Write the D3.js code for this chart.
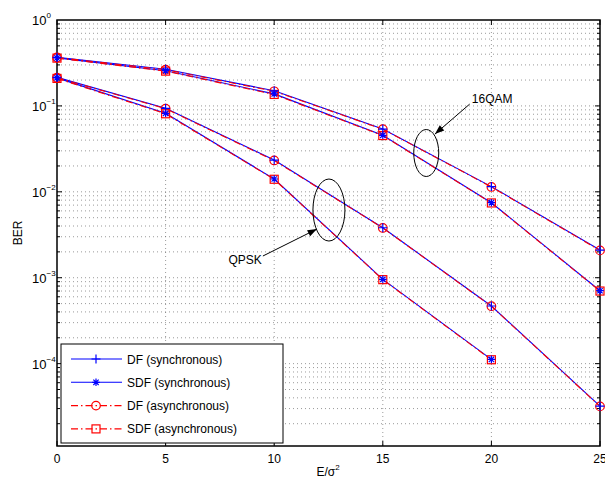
<!DOCTYPE html>
<html>
<head>
<meta charset="utf-8">
<script src="https://cdn.jsdelivr.net/npm/d3@7"></script>
<style>
  body { margin: 0; background: #fff; }
  svg { font-family: Helvetica, Arial, "Liberation Sans", sans-serif; }
</style>
</head>
<body>
<svg id="chart" width="605" height="483"></svg>
<script>
// E/sigma^2 points
var snr = [0, 5, 10, 15, 20, 25];

// 16QAM curves
var qamDfSync   = [0.368, 0.267, 0.150, 0.0538, 0.0115, 0.00210];
var qamSdfSync  = [0.362, 0.257, 0.138, 0.0455, 0.00747, 0.000706];
var qamDfAsync  = [0.366, 0.264, 0.148, 0.0536, 0.0114, 0.00208];
var qamSdfAsync = [0.360, 0.254, 0.136, 0.0452, 0.00742, 0.000700];

// QPSK curves
var qpskDfSync   = [0.215, 0.0938, 0.0234, 0.00382, 0.000469, 0.000032];
var qpskSdfSync  = [0.212, 0.0820, 0.0141, 0.000958, 0.000112];
var qpskDfAsync  = [0.213, 0.0930, 0.0232, 0.00380, 0.000466, 0.0000318];
var qpskSdfAsync = [0.209, 0.0810, 0.0140, 0.000950, 0.000111];

var xTicks = [0, 5, 10, 15, 20, 25];
var yTicks = [1, 1e-1, 1e-2, 1e-3, 1e-4];
var yExps  = [0, -1, -2, -3, -4];

var legendLabels = ["DF (synchronous)", "SDF (synchronous)", "DF (asynchronous)", "SDF (asynchronous)"];

var svg = d3.select("#chart");
var pLeft = 57, pRight = 600, pTop = 20, pBottom = 446;

var x = d3.scaleLinear().domain([0, 25]).range([pLeft, pRight]);
var y = d3.scaleLog().domain([1.1e-5, 1]).range([pBottom, pTop]);

// grid
var grid = svg.append("g").attr("stroke", "#555").attr("stroke-width", 0.6)
  .attr("stroke-dasharray", "1,3");
[5, 10, 15, 20].forEach(function(v) {
  grid.append("line").attr("x1", x(v)).attr("x2", x(v)).attr("y1", pTop).attr("y2", pBottom);
});
var minor = [];
for (var e = -5; e < 0; e++) {
  for (var m = 1; m <= 9; m++) {
    var v = m * Math.pow(10, e);
    if (v > 1.1e-5 && v < 1) minor.push({ v: v, major: m === 1 });
  }
}
minor.forEach(function(d) {
  grid.append("line").attr("x1", pLeft).attr("x2", pRight).attr("y1", y(d.v)).attr("y2", y(d.v));
});

// ticks (inside, both sides)
var ticks = svg.append("g").attr("stroke", "#000").attr("stroke-width", 1);
xTicks.forEach(function(v) {
  ticks.append("line").attr("x1", x(v)).attr("x2", x(v)).attr("y1", pBottom).attr("y2", pBottom - 5);
  ticks.append("line").attr("x1", x(v)).attr("x2", x(v)).attr("y1", pTop).attr("y2", pTop + 5);
});
minor.forEach(function(d) {
  var len = d.major ? 5 : 3;
  ticks.append("line").attr("x1", pLeft).attr("x2", pLeft + len).attr("y1", y(d.v)).attr("y2", y(d.v));
  ticks.append("line").attr("x1", pRight).attr("x2", pRight - len).attr("y1", y(d.v)).attr("y2", y(d.v));
});

// frame
svg.append("rect").attr("x", pLeft).attr("y", pTop).attr("width", pRight - pLeft).attr("height", pBottom - pTop)
  .attr("fill", "none").attr("stroke", "#000").attr("stroke-width", 1.5);

// tick labels
svg.append("g").selectAll("text").data(xTicks).enter().append("text")
  .attr("x", function(d) { return x(d); }).attr("y", pBottom + 17)
  .attr("text-anchor", "middle").attr("font-size", 12).text(function(d) { return d; });

var yl = svg.append("g").selectAll("text").data(yTicks).enter().append("text")
  .attr("x", pLeft - 25).attr("y", function(d) { return y(d) + 5; })
  .attr("font-size", 13);
yl.append("tspan").text("10");
yl.append("tspan").attr("dy", -7).attr("font-size", 8).text(function(d, i) { return yExps[i] === 0 ? "0" : "\u2212" + (-yExps[i]); });

// axis titles
var xt = svg.append("text").attr("x", x(12.5) - 12).attr("y", 476).attr("font-size", 12);
xt.append("tspan").text("E/\u03c3");
xt.append("tspan").attr("dy", -6).attr("font-size", 8).text("2");
svg.append("text").attr("transform", "translate(22," + ((pTop + pBottom) / 2) + ") rotate(-90)")
  .attr("text-anchor", "middle").attr("font-size", 12).text("BER");

// curves
var line = d3.line().x(function(d) { return x(d[0]); }).y(function(d) { return y(d[1]); });
function pairs(vals) { return vals.map(function(v, i) { return [snr[i], v]; }); }

var blue = "#0000ff", red = "#ff0000";
var dashDot = "7,3,1.5,3";

function plus(g, cx, cy, c) {
  g.append("path").attr("d", "M" + (cx - 4.5) + "," + cy + "H" + (cx + 4.5) + "M" + cx + "," + (cy - 4.5) + "V" + (cy + 4.5))
    .attr("stroke", c).attr("stroke-width", 1.2).attr("fill", "none");
}
function star(g, cx, cy, c) {
  var r = 3.8, d = r * 0.7;
  g.append("path").attr("d", "M" + (cx - r) + "," + cy + "H" + (cx + r) + "M" + cx + "," + (cy - r) + "V" + (cy + r) +
    "M" + (cx - d) + "," + (cy - d) + "L" + (cx + d) + "," + (cy + d) + "M" + (cx - d) + "," + (cy + d) + "L" + (cx + d) + "," + (cy - d))
    .attr("stroke", c).attr("stroke-width", 1.2).attr("fill", "none");
}
function circ(g, cx, cy, c) {
  g.append("circle").attr("cx", cx).attr("cy", cy).attr("r", 4.3)
    .attr("stroke", c).attr("stroke-width", 1.2).attr("fill", "none");
}
function square(g, cx, cy, c) {
  g.append("rect").attr("x", cx - 4).attr("y", cy - 4).attr("width", 8).attr("height", 8)
    .attr("stroke", c).attr("stroke-width", 1.2).attr("fill", "none");
}

var series = [
  { vals: qamDfSync, color: blue, dash: null, mark: plus },
  { vals: qamSdfSync, color: blue, dash: null, mark: star },
  { vals: qpskDfSync, color: blue, dash: null, mark: plus },
  { vals: qpskSdfSync, color: blue, dash: null, mark: star },
  { vals: qamDfAsync, color: red, dash: dashDot, mark: circ },
  { vals: qamSdfAsync, color: red, dash: dashDot, mark: square },
  { vals: qpskDfAsync, color: red, dash: dashDot, mark: circ },
  { vals: qpskSdfAsync, color: red, dash: dashDot, mark: square }
];

var plot = svg.append("g");
series.forEach(function(s) {
  plot.append("path").datum(pairs(s.vals)).attr("d", line)
    .attr("fill", "none").attr("stroke", s.color).attr("stroke-width", 1.1)
    .attr("stroke-dasharray", s.dash);
});
var marks = svg.append("g");
// red markers first, blue on top (as in the picture)
series.slice(4).concat(series.slice(0, 4)).forEach(function(s) {
  pairs(s.vals).forEach(function(p) { s.mark(marks, x(p[0]), y(p[1]), s.color); });
});

// annotations
var ann = svg.append("g").attr("stroke", "#000").attr("stroke-width", 1).attr("fill", "none");
ann.append("ellipse").attr("cx", x(17.0)).attr("cy", y(0.0283)).attr("rx", 12.5).attr("ry", 23.5);
ann.append("ellipse").attr("cx", x(12.52)).attr("cy", y(0.00614)).attr("rx", 16).attr("ry", 31);

function arrow(x1, y1, x2, y2) {
  ann.append("line").attr("x1", x1).attr("y1", y1).attr("x2", x2).attr("y2", y2);
  var a = Math.atan2(y2 - y1, x2 - x1), L = 10, w = 0.35;
  var p1 = [x2 - L * Math.cos(a - w), y2 - L * Math.sin(a - w)];
  var p2 = [x2 - L * Math.cos(a + w), y2 - L * Math.sin(a + w)];
  svg.append("path").attr("d", "M" + x2 + "," + y2 + "L" + p1 + "L" + p2 + "Z").attr("fill", "#000");
}
arrow(x(19.0), y(0.105), x(17.4), y(0.047));
arrow(x(9.48), y(0.00179), x(11.97), y(0.00369));

svg.append("text").attr("x", x(19.1)).attr("y", y(0.105) - 1).attr("font-size", 12).text("16QAM");
svg.append("text").attr("x", x(9.43)).attr("y", y(0.00179) + 8).attr("text-anchor", "end")
  .attr("font-size", 12).text("QPSK");

// legend
var lg = svg.append("g");
lg.append("rect").attr("x", 61).attr("y", 344).attr("width", 222).attr("height", 99)
  .attr("fill", "#fff").attr("stroke", "#000").attr("stroke-width", 1);
var legendMarks = [plus, star, circ, square];
legendLabels.forEach(function(lab, i) {
  var ly = 359 + i * 23.3;
  var c = i < 2 ? blue : red;
  lg.append("line").attr("x1", 71).attr("x2", 122).attr("y1", ly).attr("y2", ly)
    .attr("stroke", c).attr("stroke-width", 1.1).attr("stroke-dasharray", i < 2 ? null : dashDot);
  legendMarks[i](lg, 96, ly, c);
  lg.append("text").attr("x", 127).attr("y", ly + 4.5).attr("font-size", 12).text(lab);
});
</script>
</body>
</html>
